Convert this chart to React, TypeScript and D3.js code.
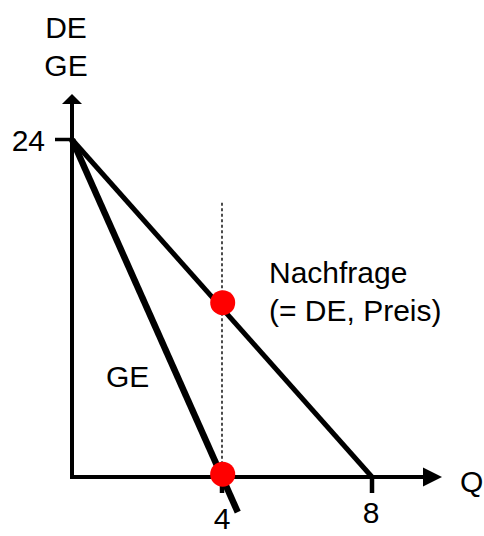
import React from "react";
import * as d3 from "d3";

const W = 484;
const H = 536;

// Data
const demandLine: [number, number][] = [[0, 24], [8, 0]];
const geLine: [number, number][] = [[0, 24], [4.42, -2.5]];
const markerPoints: [number, number][] = [[4, 12.4], [4, 0.2]];
const guideLine: [number, number][] = [[4, 19.5], [4, 0]];
const xTicks = [4, 8];
const yTicks = [24];
const yTickLabels = ["24"];
const xTickLabels = ["4", "8"];

export default function App() {
  const x = d3.scaleLinear().domain([0, 8]).range([72, 372]);
  const y = d3.scaleLinear().domain([0, 24]).range([477, 139.5]);
  const line = d3
    .line<[number, number]>()
    .x((d) => x(d[0]))
    .y((d) => y(d[1]));

  const font = "Arial, 'Liberation Sans', sans-serif";
  const fs = 30;
  const x0 = x(0);
  const y0 = y(0);

  return (
    <svg
      width={W}
      height={H}
      style={{ position: "absolute", left: 0, top: 0, background: "#fff" }}
      fontFamily={font}
    >
      <rect x={0} y={0} width={W} height={H} fill="#fff" />
      {/* axes */}
      <line x1={x0} y1={y0 + 2} x2={x0} y2={100} stroke="#000" strokeWidth={4} />
      <polygon points={`${x0},94 ${x0 - 10},104 ${x0 + 10},104`} fill="#000" />
      <line x1={x0 - 2} y1={y0} x2={428} y2={y0} stroke="#000" strokeWidth={4} />
      <polygon points={`442,${y0} 423,${y0 - 9.5} 423,${y0 + 9.5}`} fill="#000" />
      {/* ticks */}
      {yTicks.map((t) => (
        <line key={"yt" + t} x1={55} x2={x0} y1={y(t)} y2={y(t)} stroke="#000" strokeWidth={3.5} />
      ))}
      {xTicks.map((t) => (
        <line key={"xt" + t} x1={x(t)} x2={x(t)} y1={y0} y2={y0 + 16} stroke="#000" strokeWidth={4.5} />
      ))}
      {/* guide */}
      <path d={line(guideLine) || ""} stroke="#000" strokeWidth={1.4} strokeDasharray="3,2.5" fill="none" />
      {/* curves */}
      <path d={line(demandLine) || ""} stroke="#000" strokeWidth={5} fill="none" />
      <path d={line(geLine) || ""} stroke="#000" strokeWidth={6.5} fill="none" />
      {/* dots */}
      {markerPoints.map((p, i) => (
        <circle key={"m" + i} cx={x(p[0]) + 0.7} cy={y(p[1])} r={12.5} fill="#ff0000" />
      ))}
      {/* labels */}
      <text x={66} y={38} fontSize={fs} textAnchor="middle">DE</text>
      <text x={66} y={76} fontSize={fs} textAnchor="middle">GE</text>
      {yTicks.map((t, i) => (
        <text key={"yl" + t} x={45} y={y(t) + 11} fontSize={fs} textAnchor="end">{yTickLabels[i]}</text>
      ))}
      <text x={x(xTicks[0])} y={529} fontSize={fs} textAnchor="middle">{xTickLabels[0]}</text>
      <text x={x(xTicks[1]) - 1} y={523} fontSize={fs} textAnchor="middle">{xTickLabels[1]}</text>
      <text x={460} y={492} fontSize={fs}>Q</text>
      <text x={269} y={283} fontSize={fs}>Nachfrage</text>
      <text x={269} y={321} fontSize={fs}>(= DE, Preis)</text>
      <text x={106} y={387} fontSize={fs}>GE</text>
    </svg>
  );
}
